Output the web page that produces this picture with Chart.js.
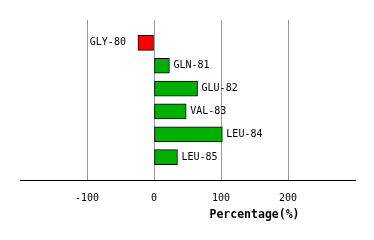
<!DOCTYPE html>
<html>
<head>
<meta charset="utf-8">
<script src="https://cdn.jsdelivr.net/npm/chart.js@4.4.0/dist/chart.umd.min.js"></script>
<style>
  html, body { margin: 0; padding: 0; background: #fff; }
  #wrap { width: 374px; height: 240px; }
</style>
</head>
<body>
<div id="wrap"><canvas id="barChart"></canvas></div>
<script>
// residues and their percentage values
var residues = ['GLY-80', 'GLN-81', 'GLU-82', 'VAL-83', 'LEU-84', 'LEU-85']
var percents = [-24, 23, 65, 48, 102, 35]
var xTicks = [-100, 0, 100, 200]

var FONT = "'DejaVu Sans Mono', monospace"

// empty slots at both ends so the bars sit on a 7 step axis
var labels = [''].concat(residues, [''])
var values = [null].concat(percents, [null])

// draws residue names next to the bar ends and the axis title
var barLabels = {
    id: 'barLabels',
    afterDatasetsDraw: function (chart) {
        var ctx = chart.ctx
        var meta = chart.getDatasetMeta(0)
        ctx.save()
        ctx.font = '10px ' + FONT
        ctx.fillStyle = '#000'
        ctx.textBaseline = 'middle'
        meta.data.forEach(function (bar, i) {
            var v = values[i]
            if (v === null) return
            if (v < 0) {
                ctx.textAlign = 'right'
                ctx.fillText(labels[i], bar.x - 12, bar.y)
            } else {
                ctx.textAlign = 'left'
                ctx.fillText(labels[i], bar.x + 4, bar.y)
            }
        })
        var xs = chart.scales.x
        ctx.font = 'bold 11.5px ' + FONT
        ctx.textAlign = 'center'
        ctx.fillText('Percentage(%)', xs.getPixelForValue(150), 215)
        ctx.restore()
    }
}

var ctx = document.getElementById('barChart').getContext('2d')
var chart = new Chart(ctx, {
    type: 'bar',
    data: {
        labels: labels,
        datasets: [{
            data: values,
            backgroundColor: values.map(function (v) { return v < 0 ? '#ff0000' : '#00b000' }),
            borderColor: '#000',
            borderWidth: 1,
            borderSkipped: false,
            barThickness: 15
        }]
    },
    options: {
        indexAxis: 'y',
        responsive: true,
        maintainAspectRatio: false,
        animation: false,
        layout: { padding: { left: 20, right: 19, top: 20, bottom: 24 } },
        plugins: {
            legend: { display: false },
            tooltip: { enabled: false }
        },
        scales: {
            y: {
                display: false,
                offset: false
            },
            x: {
                min: -200,
                max: 300,
                afterBuildTicks: function (scale) {
                    scale.ticks = [-200].concat(xTicks, [300]).map(function (v) { return { value: v } })
                },
                ticks: {
                    color: '#000',
                    font: { family: FONT, size: 10 },
                    padding: 12,
                    maxRotation: 0,
                    callback: function (v) { return xTicks.indexOf(v) >= 0 ? v : '' }
                },
                grid: {
                    drawTicks: false,
                    color: function (c) {
                        return c.tick && xTicks.indexOf(c.tick.value) >= 0 ? '#999' : 'rgba(0,0,0,0)'
                    }
                },
                border: { color: '#000', width: 1 }
            }
        }
    },
    plugins: [barLabels]
})
</script>
</body>
</html>
